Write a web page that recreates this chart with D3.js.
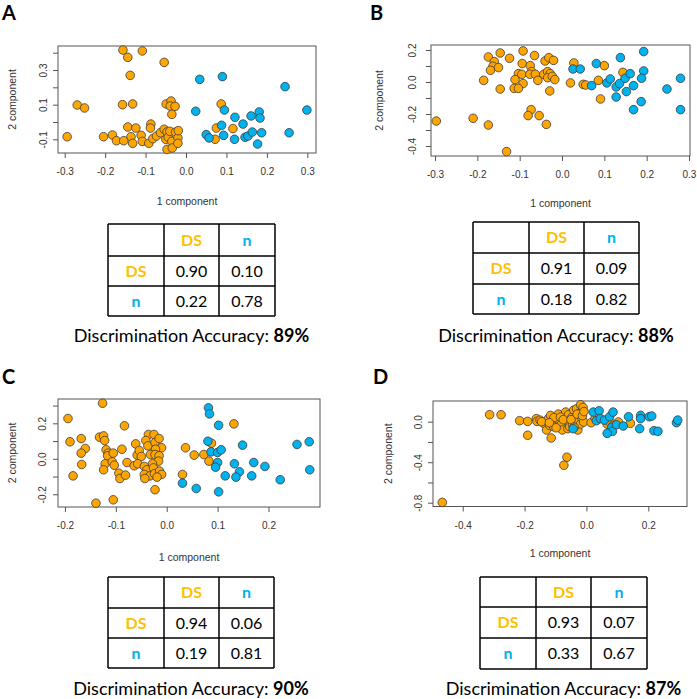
<!DOCTYPE html>
<html>
<head>
<meta charset="utf-8">
<script src="https://cdn.jsdelivr.net/npm/d3@7"></script>
<style>
  body { margin: 0; background: #fff; }
  svg { display: block; }
</style>
</head>
<body>
<div id="chart"></div>
<script>
// ---- data ----
// panel A
var dsA = [[-0.156,0.415],[-0.108,0.41],[-0.144,0.373],[-0.054,0.344],[-0.138,0.269],[-0.269,0.098],[-0.251,0.081],
  [-0.157,0.1],[-0.132,0.104],[-0.049,0.104],[-0.037,0.121],[-0.039,0.092],[-0.027,0.09],[-0.035,0.044],[0.087,0.104],
  [-0.294,-0.085],[-0.204,-0.085],[-0.182,-0.075],[-0.172,-0.108],[-0.154,-0.108],[-0.144,-0.029],[-0.136,-0.085],
  [-0.132,-0.123],[-0.124,-0.035],[-0.111,-0.077],[-0.108,-0.112],[-0.092,-0.123],[-0.087,-0.012],[-0.088,-0.035],
  [-0.082,-0.096],[-0.073,-0.081],[-0.063,-0.062],[-0.054,-0.042],[-0.047,-0.058],[-0.05,-0.1],[-0.044,-0.088],
  [-0.04,-0.054],[-0.035,-0.112],[-0.047,-0.158],[-0.034,-0.15],[-0.026,-0.058],[-0.02,-0.092],[-0.019,-0.05],
  [-0.02,-0.123],[0.075,-0.035],[0.072,-0.1],[0.116,-0.038]];
var nA = [[0.034,0.246],[0.09,0.262],[0.245,0.204],[0.299,0.069],[0.024,0.062],[0.095,0.069],[0.121,0.027],
  [0.181,0.058],[0.161,0.035],[0.183,0.023],[0.141,-0.012],[0.088,-0.019],[0.05,-0.073],[0.057,-0.092],[0.093,-0.077],
  [0.12,-0.1],[0.146,-0.088],[0.153,-0.081],[0.164,-0.058],[0.187,-0.062],[0.255,-0.062],[0.177,-0.127]];

// panel B
var dsB = [[-0.174,0.156],[-0.146,0.181],[-0.16,0.127],[-0.163,0.098],[-0.169,0.073],[-0.15,0.09],[-0.124,0.148],
  [-0.092,0.194],[-0.065,0.165],[-0.094,0.115],[-0.075,0.102],[-0.072,0.065],[-0.103,0.052],[-0.095,0.048],
  [-0.111,0.015],[-0.092,-0.01],[-0.113,-0.04],[-0.103,-0.04],[-0.185,0.01],[-0.146,-0.044],[-0.076,0.048],
  [-0.063,0.048],[-0.057,0.01],[-0.04,0.131],[-0.031,0.152],[-0.02,0.135],[-0.043,0.048],[-0.034,0.065],
  [-0.028,0.052],[-0.034,0.027],[-0.023,0.035],[-0.017,0.015],[-0.029,-0.056],[-0.073,-0.173],[-0.08,-0.21],
  [-0.054,-0.21],[-0.037,-0.265],[-0.297,-0.244],[-0.21,-0.227],[-0.174,-0.269],[-0.131,-0.435],[0.02,-0.006],
  [0.028,0.119],[0.05,-0.015],[0.056,-0.019],[0.1,0.102],[0.086,0.01],[0.091,-0.106],[0.144,0.06]];
var nB = [[0.026,0.081],[0.043,0.081],[0.081,0.115],[0.138,0.152],[0.193,0.19],[0.07,-0.023],[0.106,-0.006],
  [0.114,0.019],[0.128,-0.031],[0.136,-0.01],[0.149,0.023],[0.161,0.052],[0.193,0.069],[0.188,0.023],[0.169,-0.023],
  [0.152,-0.06],[0.128,-0.094],[0.187,-0.123],[0.169,-0.173],[0.248,-0.044],[0.28,0.023],[0.28,-0.173]];

// panel C
var dsC = [[-0.126,0.313],[-0.194,0.227],[-0.083,0.186],[-0.19,0.096],[-0.168,0.114],[-0.16,0.058],[-0.168,0.032],
  [-0.167,-0.032],[-0.184,-0.096],[-0.132,0.122],[-0.124,0.129],[-0.122,0.103],[-0.119,0.051],[-0.115,0.032],
  [-0.116,0.017],[-0.105,0.032],[-0.121,-0.028],[-0.124,-0.062],[-0.107,-0.017],[-0.103,-0.036],[-0.088,0.054],
  [-0.094,-0.081],[-0.092,-0.111],[-0.081,-0.092],[-0.078,-0.021],[-0.061,0.084],[-0.058,0.021],[-0.054,0.047],
  [-0.05,0.013],[-0.064,-0.039],[-0.057,-0.028],[-0.036,0.137],[-0.025,0.137],[-0.041,0.103],[-0.037,0.073],
  [-0.023,0.092],[-0.015,0.114],[-0.01,0.062],[-0.022,0.054],[-0.032,0.024],[-0.023,0.024],[-0.015,0.017],
  [-0.016,-0.013],[-0.028,-0.028],[-0.044,-0.043],[-0.039,-0.062],[-0.026,-0.051],[-0.044,-0.088],[-0.033,-0.096],
  [-0.024,-0.084],[-0.014,-0.069],[-0.01,-0.088],[-0.019,-0.103],[-0.043,-0.111],[-0.023,-0.174],[-0.139,-0.25],
  [-0.105,-0.231],[0.037,0.062],[0.054,0.021],[0.073,0.024],[0.083,-0.013],[0.031,-0.088],[0.088,0.088],[0.132,0.197]];
var nC = [[0.082,0.287],[0.084,0.253],[0.102,0.189],[0.081,0.099],[0.087,0.039],[0.1,0.036],[0.107,0.051],
  [0.149,0.077],[0.1,-0.021],[0.096,-0.047],[0.115,-0.096],[0.133,-0.028],[0.143,-0.073],[0.136,-0.103],
  [0.171,-0.021],[0.167,-0.096],[0.193,-0.043],[0.223,-0.118],[0.031,-0.137],[0.058,-0.167],[0.102,-0.186],
  [0.256,0.081],[0.28,0.096],[0.281,-0.062]];

// panel D
var dsD = [[-0.466,-0.797],[-0.313,0.069],[-0.276,0.069],[-0.216,0.01],[-0.19,0.003],[-0.19,-0.134],[-0.114,-0.161],
  [-0.063,-0.351],[-0.073,-0.43],[-0.162,0.03],[-0.16,0.003],[-0.15,0.015],[-0.136,-0.023],[-0.129,-0.082],
  [-0.123,0.03],[-0.116,0.062],[-0.112,0.003],[-0.119,-0.036],[-0.106,-0.049],[-0.101,-0.01],[-0.095,0.03],
  [-0.091,0.075],[-0.086,0.003],[-0.082,-0.03],[-0.078,-0.082],[-0.071,0.049],[-0.067,0.095],[-0.062,0.003],
  [-0.06,-0.069],[-0.058,0.069],[-0.054,-0.049],[-0.047,0.043],[-0.045,-0.03],[-0.041,0.115],[-0.037,-0.016],
  [-0.032,0.128],[-0.032,0.043],[-0.028,-0.082],[-0.026,0.01],[-0.024,0.082],[-0.019,0.167],[-0.019,-0.023],
  [-0.017,0.089],[-0.015,0.036],[-0.011,0.141],[-0.009,-0.003],[-0.105,0.04],[-0.098,-0.06],[-0.084,0.045],
  [-0.075,0.02],[-0.05,0.02],[-0.04,-0.055],[-0.03,0.075],[-0.013,0.06],[-0.008,0.1],[-0.145,0],[-0.12,-0.01],
  [0.015,-0.01],[0.028,0.036],[0.067,-0.023],[0.075,-0.003],[0.103,-0.003],[0.142,-0.016],[0.085,-0.04]];
var nD = [[0.022,0.095],[0.041,0.108],[0.032,0.01],[0.045,0.03],[0.058,0.016],[0.075,0.049],[0.086,0.095],
  [0.082,-0.056],[0.084,-0.095],[0.067,-0.115],[0.097,-0.03],[0.119,-0.043],[0.136,0.049],[0.175,0.062],
  [0.175,0.03],[0.172,-0.069],[0.203,0.049],[0.211,0.056],[0.218,-0.089],[0.231,-0.095],[0.291,-0.01],
  [0.295,0.016],[-0.043,-0.069]];

// confusion matrices (rows: true DS, n) and accuracy
var classes = ["DS", "n"];
var matA = [["0.90","0.10"],["0.22","0.78"]];
var matB = [["0.91","0.09"],["0.18","0.82"]];
var matC = [["0.94","0.06"],["0.19","0.81"]];
var matD = [["0.93","0.07"],["0.33","0.67"]];
var accuracy = ["89%", "88%", "90%", "87%"];

// tick values
var xTicksA = [-0.3,-0.2,-0.1,0,0.1,0.2,0.3], yTicksA = [-0.1,0,0.1,0.2,0.3,0.4], yLabA = [-0.1,0.1,0.3];
var xTicksB = [-0.3,-0.2,-0.1,0,0.1,0.2,0.3], yTicksB = [-0.4,-0.3,-0.2,-0.1,0,0.1,0.2], yLabB = [-0.4,-0.2,0,0.2];
var xTicksC = [-0.2,-0.1,0,0.1,0.2], yTicksC = [-0.2,-0.1,0,0.1,0.2,0.3], yLabC = [-0.2,0,0.2];
var xTicksD = [-0.4,-0.2,0,0.2], yTicksD = [-0.8,-0.6,-0.4,-0.2,0], yLabD = [-0.8,-0.4,0];

// ---- layout ----
var panels = [
  { letter: "A", lx: 2, ly: 20, ds: dsA, n: nA, mat: matA, acc: accuracy[0],
    box: [58, 316, 46, 153], xDom: [-0.3166, 0.3215], yDom: [0.4385, -0.1789],
    xTicks: xTicksA, yTicks: yTicksA, yLab: yLabA, yLabOff: 20, yTitleOff: 46, xTitleOff: 48,
    table: [108, 164, 219, 275], rows: [224, 256, 286, 316], accY: 342 },
  { letter: "B", lx: 370, ly: 20, ds: dsB, n: nB, mat: matB, acc: accuracy[1],
    box: [431, 690, 45, 156], xDom: [-0.3095, 0.3024], yDom: [0.231, -0.4625],
    xTicks: xTicksB, yTicks: yTicksB, yLab: yLabB, yLabOff: 24, yTitleOff: 52, xTitleOff: 47,
    table: [473, 529, 584, 639], rows: [222, 253, 284, 314], accY: 342 },
  { letter: "C", lx: 2, ly: 384, ds: dsC, n: nC, mat: matC, acc: accuracy[2],
    box: [58, 320, 399, 507], xDom: [-0.2136, 0.3012], yDom: [0.337, -0.2715],
    xTicks: xTicksC, yTicks: yTicksC, yLab: yLabC, yLabOff: 21, yTitleOff: 46, xTitleOff: 50,
    table: [108, 164, 219, 274], rows: [577, 608, 638, 668], accY: 695 },
  { letter: "D", lx: 373, ly: 384, ds: dsD, n: nD, mat: matD, acc: accuracy[3],
    box: [433, 687, 401, 506.5], xDom: [-0.496, 0.325], yDom: [0.2044, -0.8375],
    xTicks: xTicksD, yTicks: yTicksD, yLab: yLabD, yLabOff: 20, yTitleOff: 45, xTitleOff: 47,
    table: [480, 536, 591, 647], rows: [577, 607, 638, 669], accY: 695 }
];

var orange = "#FFA500", blue = "#00B2EE";
var dsText = "#FFC000", nText = "#00B0F0";
var rFont = "'Liberation Sans', Arial, sans-serif";
var tFont = "Lato, 'Open Sans', sans-serif";

var svg = d3.select("#chart").append("svg")
    .attr("width", 697)
    .attr("height", 699);

panels.forEach(function (p) {
    var g = svg.append("g");
    var b = p.box;
    var x = d3.scaleLinear().domain(p.xDom).range([b[0], b[1]]);
    var y = d3.scaleLinear().domain(p.yDom).range([b[2], b[3]]);
    var fmt = function (d) { return d.toFixed(1); };

    // panel letter
    g.append("text")
        .attr("x", p.lx).attr("y", p.ly)
        .style("font-family", tFont).style("font-weight", "bold").style("font-size", "20px")
        .text(p.letter);

    // Add the X Axis
    var xa = g.append("g")
        .attr("transform", "translate(0," + b[3] + ")")
        .call(d3.axisBottom(x).tickValues(p.xTicks).tickFormat(fmt).tickSize(5).tickPadding(10));
    // Add the Y Axis
    var ya = g.append("g")
        .attr("transform", "translate(" + b[0] + ",0)")
        .call(d3.axisLeft(y).tickValues(p.yTicks).tickSize(5)
            .tickFormat(function (d) {
                return p.yLab.some(function (v) { return Math.abs(v - d) < 1e-9; }) ? fmt(d) : "";
            }));
    [xa, ya].forEach(function (a) {
        a.select(".domain").remove();
        a.selectAll("line").attr("stroke", "#555");
        a.selectAll("text").attr("fill", "#333").style("font-family", rFont).style("font-size", "10px");
    });
    // rotate the y tick labels like R does
    ya.selectAll("text")
        .attr("transform", "rotate(-90)")
        .attr("x", 0)
        .attr("y", -p.yLabOff + 5)
        .attr("dy", "0.35em")
        .style("text-anchor", "middle");

    // box
    g.append("rect")
        .attr("x", b[0]).attr("y", b[2])
        .attr("width", b[1] - b[0]).attr("height", b[3] - b[2])
        .attr("fill", "none").attr("stroke", "#555").attr("stroke-width", 1);

    // text label for the x axis
    g.append("text")
        .attr("x", (b[0] + b[1]) / 2).attr("y", b[3] + p.xTitleOff)
        .attr("dy", "0.35em")
        .style("text-anchor", "middle").style("font-family", rFont).style("font-size", "10.5px")
        .attr("fill", "#333")
        .text("1 component");

    // text label for the y axis
    g.append("text")
        .attr("transform", "translate(" + (b[0] - p.yTitleOff) + "," + ((b[2] + b[3]) / 2) + ") rotate(-90)")
        .attr("dy", "0.35em")
        .style("text-anchor", "middle").style("font-family", rFont).style("font-size", "10.5px")
        .attr("fill", "#333")
        .text("2 component");

    // Add the scatterplot
    g.selectAll(".dsDot")
        .data(p.ds)
        .enter().append("circle")
        .attr("class", "dsDot")
        .attr("cx", function (d) { return x(d[0]); })
        .attr("cy", function (d) { return y(d[1]); })
        .attr("r", 4.3)
        .attr("fill", orange).attr("stroke", "#3a3a3a").attr("stroke-width", 0.8);
    g.selectAll(".nDot")
        .data(p.n)
        .enter().append("circle")
        .attr("class", "nDot")
        .attr("cx", function (d) { return x(d[0]); })
        .attr("cy", function (d) { return y(d[1]); })
        .attr("r", 4.3)
        .attr("fill", blue).attr("stroke", "#3a3a3a").attr("stroke-width", 0.8);

    // confusion table
    var cols = p.table, rows = p.rows;
    cols.forEach(function (cx) {
        g.append("line").attr("x1", cx).attr("x2", cx).attr("y1", rows[0]).attr("y2", rows[3])
            .attr("stroke", "#000").attr("stroke-width", 1.5);
    });
    rows.forEach(function (ry) {
        g.append("line").attr("x1", cols[0]).attr("x2", cols[3]).attr("y1", ry).attr("y2", ry)
            .attr("stroke", "#000").attr("stroke-width", 1.5);
    });
    var cell = function (ci, ri, txt, color, bold) {
        g.append("text")
            .attr("x", (cols[ci] + cols[ci + 1]) / 2)
            .attr("y", (rows[ri] + rows[ri + 1]) / 2)
            .attr("dy", "0.36em")
            .style("text-anchor", "middle").style("font-family", tFont).style("font-size", "16px")
            .style("font-weight", bold ? "bold" : "normal")
            .attr("fill", color)
            .text(txt);
    };
    classes.forEach(function (c, i) {
        var col = c === "DS" ? dsText : nText;
        cell(i + 1, 0, c, col, true);
        cell(0, i + 1, c, col, true);
        p.mat[i].forEach(function (v, j) { cell(j + 1, i + 1, v, "#000", false); });
    });

    // accuracy line
    var acc = g.append("text")
        .attr("x", (cols[0] + cols[3]) / 2).attr("y", p.accY)
        .style("text-anchor", "middle").style("font-family", tFont).style("font-size", "18px")
        .attr("fill", "#000");
    acc.append("tspan").text("Discrimination Accuracy: ");
    acc.append("tspan").style("font-weight", "bold").text(p.acc);
});
</script>
</body>
</html>
